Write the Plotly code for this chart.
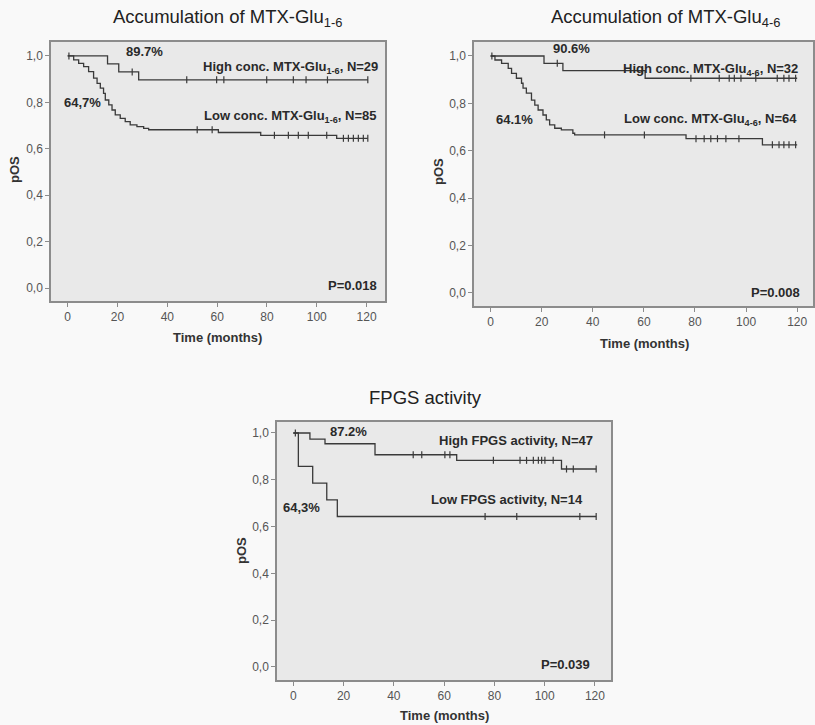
import numpy as np
import plotly.graph_objects as go

# ---------------- data ----------------
# Panel 1: Accumulation of MTX-Glu1-6
p1_high_t = [0, 16, 20.5, 28.5, 120.5]
p1_high_s = [1.0, 0.966, 0.931, 0.897, 0.897]
p1_high_cens = [0.5, 25.9, 47.8, 59.8, 62.7, 79.9, 90.6, 95.7, 104.3, 120.5]

p1_low_t = [0, 2.4, 4.4, 6.4, 8.4, 10.4, 11.8, 13.1, 14.4, 15.1, 16.5, 17.8, 19.1,
            21.1, 23.1, 25.1, 27.8, 30.5, 32.5, 60.5, 77.5, 108, 120.5]
p1_low_s = [1.0, 0.983, 0.968, 0.954, 0.932, 0.904, 0.882, 0.861, 0.839, 0.810, 0.789,
            0.767, 0.746, 0.731, 0.717, 0.703, 0.695, 0.688, 0.682, 0.670, 0.658, 0.645, 0.645]
p1_low_cens = [52, 58, 83, 88.6, 92.6, 96.6, 104, 110.7, 112.7, 114.7, 116.7, 118.7, 120.5]

# Panel 2: Accumulation of MTX-Glu4-6
p2_high_t = [0, 20.9, 28.3, 60.5, 120]
p2_high_s = [1.0, 0.969, 0.938, 0.906, 0.906]
p2_high_cens = [0.5, 26.1, 59.5, 78.4, 89.5, 93.4, 95.4, 98, 103.8, 112.2, 114.8, 116.8, 119.4]

p2_low_t = [0, 1.7, 4.3, 6.9, 8.2, 10.1, 12.1, 12.7, 14.0, 16.0, 17.3, 18.6, 20.5, 21.8,
            23.1, 25.1, 27.7, 32.2, 32.9, 76.5, 106.4, 120]
p2_low_s = [1.0, 0.983, 0.969, 0.948, 0.927, 0.906, 0.885, 0.864, 0.843, 0.814, 0.793,
            0.772, 0.751, 0.730, 0.709, 0.695, 0.688, 0.674, 0.667, 0.651, 0.625, 0.625]
p2_low_cens = [44.6, 60.2, 80.4, 83.6, 86.2, 88.8, 92.1, 97.2, 110.3, 112.9, 114.8, 116.8, 119.4]

# Panel 3: FPGS activity
p3_high_t = [0, 6.6, 12.6, 32.5, 65, 106.7, 120.5]
p3_high_s = [1.0, 0.974, 0.954, 0.907, 0.883, 0.846, 0.846]
p3_high_cens = [0.8, 47.7, 51.1, 60.3, 62.3, 79.6, 90.2, 92.8, 95.5, 97.5, 98.8, 100.1,
                103.4, 108.7, 111.4, 120.5]

p3_low_t = [0, 2, 7.7, 13.3, 17.5, 120.5]
p3_low_s = [1.0, 0.857, 0.786, 0.714, 0.643, 0.643]
p3_low_cens = [76.3, 88.9, 114, 120.5]

titles = ["Accumulation of MTX-Glu<sub>1-6</sub>",
          "Accumulation of MTX-Glu<sub>4-6</sub>",
          "FPGS activity"]
high_labels = ["High conc. MTX-Glu<sub>1-6</sub>, N=29",
               "High conc. MTX-Glu<sub>4-6</sub>, N=32",
               "High FPGS activity, N=47"]
low_labels = ["Low conc. MTX-Glu<sub>1-6</sub>, N=85",
              "Low conc. MTX-Glu<sub>4-6</sub>, N=64",
              "Low FPGS activity, N=14"]
high_pct = ["89.7%", "90.6%", "87.2%"]
low_pct = ["64,7%", "64.1%", "64,3%"]
p_values = ["P=0.018", "P=0.008", "P=0.039"]

x_ticks = [0, 20, 40, 60, 80, 100, 120]
x_ticktext = ["0", "20", "40", "60", "80", "100", "120"]
y_ticks = [0.0, 0.2, 0.4, 0.6, 0.8, 1.0]
y_ticktext = ["0,0", "0,2", "0,4", "0,6", "0,8", "1,0"]

# ---------------- layout geometry ----------------
W, H = 815, 725
FONT = "Liberation Sans, Arial, sans-serif"
LINE = "#3a3a3a"
FRAME = "#8c8c8c"

panels = [
    dict(x=(51, 385), y=(42, 301), xr=(-6.7, 127.4), yr=(-0.056, 1.06),
         title=(227, 18), xt=(217, 337), yt=(14, 170),
         pos_high=(31, 1.017), pos_hl=(125.5, 0.948), pos_low=(5.8, 0.80),
         pos_ll=(124.6, 0.737), pos_p=(125, 0.012),
         data=(p1_high_t, p1_high_s, p1_high_cens, p1_low_t, p1_low_s, p1_low_cens)),
    dict(x=(474, 813), y=(42, 306), xr=(-6.5, 126.2), yr=(-0.055, 1.059),
         title=(665, 18), xt=(644, 343), yt=(438, 172),
         pos_high=(31.6, 1.03), pos_hl=(121.3, 0.945), pos_low=(9.5, 0.73),
         pos_ll=(120.7, 0.73), pos_p=(121.9, 0.0),
         data=(p2_high_t, p2_high_s, p2_high_cens, p2_low_t, p2_low_s, p2_low_cens)),
    dict(x=(277, 611), y=(422, 680), xr=(-6.5, 126.4), yr=(-0.056, 1.047),
         title=(425, 397), xt=(445, 715), yt=(241, 551),
         pos_high=(21.9, 1.006), pos_hl=(120, 0.970), pos_low=(3.3, 0.68),
         pos_ll=(116, 0.714), pos_p=(118.7, 0.009),
         data=(p3_high_t, p3_high_s, p3_high_cens, p3_low_t, p3_low_s, p3_low_cens)),
]


def px_x(p):
    return p / W


def px_y(p):
    return 1 - p / H


def step_value(times, surv, t):
    idx = np.searchsorted(np.array(times), np.array(t), side="right") - 1
    return [surv[i] for i in idx]


fig = go.Figure()
annotations = []
layout_axes = {}

for i, pnl in enumerate(panels):
    n = "" if i == 0 else str(i + 1)
    xa, ya = "x" + n, "y" + n
    ht, hs, hc, lt, ls, lc = pnl["data"]
    for t, s, c in ((ht, hs, hc), (lt, ls, lc)):
        fig.add_trace(go.Scatter(x=t, y=s, mode="lines", line=dict(shape="hv", color=LINE, width=1.3),
                                 xaxis=xa, yaxis=ya, showlegend=False, hoverinfo="skip"))
        fig.add_trace(go.Scatter(x=c, y=step_value(t, s, c), mode="markers",
                                 marker=dict(symbol="line-ns-open", size=5, color=LINE,
                                             line=dict(color=LINE, width=1.2)),
                                 xaxis=xa, yaxis=ya, showlegend=False, hoverinfo="skip"))

    layout_axes["xaxis" + n] = dict(
        domain=[px_x(pnl["x"][0]), px_x(pnl["x"][1])], range=list(pnl["xr"]), anchor=ya,
        tickvals=x_ticks, ticktext=x_ticktext, ticks="outside", ticklen=4, tickcolor=FRAME,
        tickfont=dict(size=12, color="#555555", family=FONT), showgrid=False, zeroline=False,
        showline=True, mirror=True, linecolor=FRAME, linewidth=1.5, fixedrange=True)
    layout_axes["yaxis" + n] = dict(
        domain=[px_y(pnl["y"][1]), px_y(pnl["y"][0])], range=list(pnl["yr"]), anchor=xa,
        tickvals=y_ticks, ticktext=y_ticktext, ticks="outside", ticklen=4, tickcolor=FRAME,
        tickfont=dict(size=12, color="#555555", family=FONT), showgrid=False, zeroline=False,
        showline=True, mirror=True, linecolor=FRAME, linewidth=1.5, fixedrange=True)

    # panel title
    annotations.append(dict(text=titles[i], x=px_x(pnl["title"][0]), y=px_y(pnl["title"][1]),
                            xref="paper", yref="paper", showarrow=False, xanchor="center",
                            yanchor="middle", font=dict(size=18.5, color="#222222", family=FONT)))
    # axis titles
    annotations.append(dict(text="<b>Time (months)</b>", x=px_x(pnl["xt"][0]), y=px_y(pnl["xt"][1]),
                            xref="paper", yref="paper", showarrow=False, xanchor="center",
                            yanchor="middle", font=dict(size=13, color="#333333", family=FONT)))
    annotations.append(dict(text="<b>pOS</b>", x=px_x(pnl["yt"][0]), y=px_y(pnl["yt"][1]),
                            xref="paper", yref="paper", showarrow=False, xanchor="center",
                            yanchor="middle", textangle=-90,
                            font=dict(size=13, color="#333333", family=FONT)))
    # in-plot labels
    bold = dict(size=13, color="#2a2a2a", family=FONT)
    annotations.append(dict(text="<b>" + high_pct[i] + "</b>", x=pnl["pos_high"][0], y=pnl["pos_high"][1],
                            xref=xa, yref=ya, showarrow=False, xanchor="center", yanchor="middle", font=bold))
    annotations.append(dict(text="<b>" + high_labels[i] + "</b>", x=pnl["pos_hl"][0], y=pnl["pos_hl"][1],
                            xref=xa, yref=ya, showarrow=False, xanchor="right", yanchor="middle", font=bold))
    annotations.append(dict(text="<b>" + low_pct[i] + "</b>", x=pnl["pos_low"][0], y=pnl["pos_low"][1],
                            xref=xa, yref=ya, showarrow=False, xanchor="center", yanchor="middle", font=bold))
    annotations.append(dict(text="<b>" + low_labels[i] + "</b>", x=pnl["pos_ll"][0], y=pnl["pos_ll"][1],
                            xref=xa, yref=ya, showarrow=False, xanchor="right", yanchor="middle", font=bold))
    annotations.append(dict(text="<b>" + p_values[i] + "</b>", x=pnl["pos_p"][0], y=pnl["pos_p"][1],
                            xref=xa, yref=ya, showarrow=False, xanchor="right", yanchor="middle", font=bold))

fig.update_layout(
    width=W, height=H, margin=dict(l=0, r=0, t=0, b=0),
    paper_bgcolor="#f9f9f9", plot_bgcolor="#e9e9e9",
    font=dict(family=FONT), annotations=annotations, showlegend=False,
    **layout_axes)

fig.write_html("out.html", config={"displayModeBar": False},
               post_script="document.body.style.margin='0';document.body.style.overflow='hidden';")
